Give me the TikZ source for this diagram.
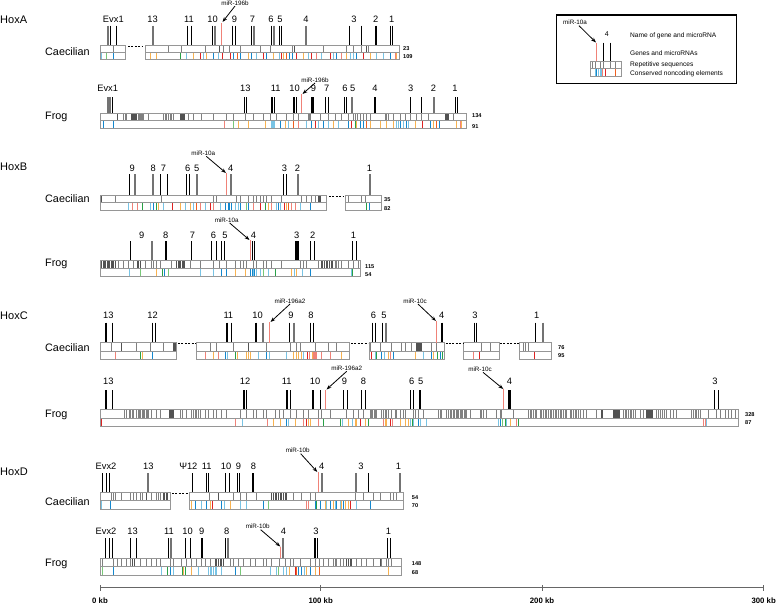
\documentclass[tikz,border=0pt]{standalone}
\usepackage{fontspec}
\setmainfont{Liberation Sans}
\usetikzlibrary{arrows.meta}
\newcounter{nn}
\definecolor{lb}{RGB}{120,195,228}
\definecolor{bl}{RGB}{20,135,205}
\definecolor{or}{RGB}{248,178,80}
\definecolor{ro}{RGB}{240,95,30}
\definecolor{rd}{RGB}{222,35,35}
\definecolor{sa}{RGB}{240,130,120}
\definecolor{gr}{RGB}{40,160,70}
\definecolor{gl}{RGB}{120,200,120}
\definecolor{trk}{RGB}{150,150,150}
\tikzset{
 trackbox/.style={draw=trk, line width=0.8pt},
 rep/.style={draw=black!50, line width=0.55pt},
 repd/.style={draw=black!68, line width=0.9pt},
 cne/.style={line width=0.9pt},
 gbk/.style={draw=black, line width=0.9pt},
 ggr/.style={draw=black!55, line width=1.9pt},
 gbt/.style={draw=black, line width=1.9pt},
 mir/.style={draw=sa, line width=0.7pt},
 genelab/.style={font=\fontsize{9.3}{10}\selectfont, inner sep=0pt},
 hoxlab/.style={font=\fontsize{11}{12}\selectfont, anchor=west, inner sep=0pt},
 splab/.style={font=\fontsize{10.8}{12}\selectfont, anchor=west, inner sep=0pt},
 numlab/.style={font=\fontsize{5.6}{6}\selectfont\bfseries, anchor=west, inner sep=0pt},
 mirlab/.style={font=\fontsize{6.3}{7}\selectfont, inner sep=0.5pt},
 leglab/.style={font=\fontsize{6.6}{7}\selectfont, anchor=west, inner sep=0pt},
 axlab/.style={font=\fontsize{7.8}{9}\selectfont\bfseries, inner sep=0pt},
 arr/.style={-{Stealth[length=5pt,width=3.6pt]}, line width=0.8pt},
 gapline/.style={dash pattern=on 2pt off 1.4pt, line width=1pt},
 axisline/.style={draw=black!60, line width=0.7pt},
 legbox/.style={draw=black, line width=1.2pt}
}
% ticks/bars at 3x-coordinates
\newcommand\gns[4]{\foreach \u in {#4}{\draw[#3] (\u/3,#1) -- (\u/3,#2);}}
\newcommand\cnes[3]{\foreach \c/\u in {#3}{\draw[cne,draw=\c] (\u/3,#1) -- (\u/3,#2);}}
\newcommand\gls[2]{\foreach \u/\t in {#2}{\stepcounter{nn}\node[genelab] (g\thenn) at (\u/3,#1) {\t};}}
\newcommand\trkbox[5]{\draw[trackbox] (#1,#3) rectangle (#2,#5); \draw[trackbox] (#1,#4) -- (#2,#4);}
\begin{document}
\begin{tikzpicture}[x=1pt,y=-1pt]
\useasboundingbox (0,0) rectangle (778,606);

% ================= HoxA =================
\node[hoxlab] (hoxA) at (0,20) {HoxA};
\node[splab] (spA1) at (45,52) {Caecilian};
\node[splab] (spA2) at (45,117) {Frog};
% Caecilian
\gls{19}{340/Evx1,458/13,567/11,638/10,703/9,757/7,813/6,840/5,918/4,1062/3,1127/2,1175/1}
\gns{25.7}{45.3}{gbk}{331,348,563,573,636,697,705,755,813,838,845,1048,1083,1171,1178}
\gns{25.7}{45.3}{ggr}{325,460,645,763,822,918}
\gns{25.7}{45.3}{gbt}{1127}
\gns{45.3}{52}{rep}{340,505,545,615,670,688,720,780,810,876,970,1040,1060,1085,1105}
\gns{45.3}{52}{repd}{657,882,1100}
\cnes{52}{59.3}{lb/305,gl/318,bl/340,or/450,or/470,gr/540,lb/560,or/580,rd/600,lb/610,or/620,bl/640,lb/655,rd/668,rd/690,bl/700,ro/712,bl/722,or/745,bl/755,lb/770,rd/790,bl/800,or/820,lb/838,rd/845,or/850,ro/860,bl/868,bl/878,rd/890,or/910,lb/925,rd/935,sa/950,lb/965,rd/990,lb/1000,bl/1010,sa/1025,or/1040,lb/1050,lb/1060,bl/1070,rd/1090,or/1110,lb/1130,lb/1150,bl/1170,sa/1185,or/1190}
\trkbox{100}{125.7}{45.3}{52}{59.3}
\trkbox{145.7}{399}{45.3}{52}{59.3}
\draw[gapline] (128,46) -- (143,46);
\draw[mir] (664/3,23) -- (664/3,45.3);
\node[mirlab] (mA1) at (235,3) {miR-196b};
\coordinate (tA1) at (222.5,22);
\draw[arr] (mA1.south) -- (tA1);
\node[numlab] (nA1) at (403,48.3) {23};
\node[numlab] (nA2) at (403,56.5) {109};
% Frog
\gls{88}{323/Evx1,736/13,827/11,884/10,940/9,980/7,1035/6,1058/5,1125/4,1232/3,1300/2,1365/1}
\gns{97}{113.3}{gbk}{337,733,740,824,890,935,977,985,1033,1038,1230,1263,1365,1371}
\gns{97}{113.3}{ggr}{325,331,1055,1303}
\gns{97}{113.3}{gbt}{817,881,940,1125}
\gns{113.3}{120.7}{repd}{352,395,398,...,410,540,543,...,552,1335,1338,1341,1344}
\gns{113.3}{120.7}{rep}{370,375,380,415,418,...,430,445,490,495,...,520,565,580,605,640,680,700,735,760,790,810,830,858,880,895,925,928,932,960,985,1005,1025,1045,1060,1065,1072,1080,1090,1100,1110,1155,1160,1165,1180,1200,1215,1230,1250,1265,1285,1360}
\cnes{120.7}{128.3}{bl/310,bl/340,sa/672,gl/700,or/715,or/745,or/795,lb/815,lb/818,lb/821,lb/824,bl/840,or/855,lb/865,ro/880,sa/895,lb/920,bl/935,rd/945,lb/955,bl/970,lb/985,or/1000,lb/1015,bl/1045,rd/1055,gr/1065,or/1068,bl/1080,bl/1090,ro/1100,or/1110,or/1140,or/1160,or/1180,lb/1190,lb/1195,bl/1200,lb/1210,bl/1220,lb/1225,or/1245,rd/1268,bl/1290,or/1300,ro/1310,bl/1318,or/1370,sa/1380,or/1385}
\trkbox{100}{466}{113.3}{120.7}{128.3}
\draw[mir] (905/3,94) -- (905/3,113.3);
\node[mirlab] (mA2) at (315,80) {miR-196b};
\coordinate (tA2) at (302.5,94);
\draw[arr] (mA2.south) -- (tA2);
\node[numlab] (nA3) at (472,115.5) {134};
\node[numlab] (nA4) at (472,126.5) {91};

% ================= HoxB =================
\node[hoxlab] (hoxB) at (0,166.7) {HoxB};
\node[splab] (spB1) at (45,198.3) {Caecilian};
\node[splab] (spB2) at (45,264) {Frog};
% Caecilian
\gls{168.3}{397/9,460/8,490/7,563/6,590/5,692/4,853/3,892/2,1108/1}
\gns{174.3}{195}{gbk}{387,482,503,560,567,850,858}
\gns{174.3}{195}{ggr}{405,460,590,692,895,1110}
\gns{195}{202.3}{repd}{305,955,958,961}
\gns{195}{202.3}{rep}{345,485,640,650,710,720,745,760,770,780,790,800,815,845,905,920,935,945,1045,1085,1095}
\cnes{202.3}{210}{lb/385,sa/398,sa/412,gr/428,lb/452,bl/460,gr/470,or/474,lb/490,rd/518,or/540,lb/555,or/572,lb/580,ro/590,sa/600,lb/615,rd/630,sa/640,lb/660,bl/675,bl/685,bl/689,bl/693,lb/705,lb/715,bl/722,gl/738,bl/745,sa/760,rd/780,gr/795,or/805,sa/815,lb/828,bl/835,lb/840,rd/852,or/860,ro/866,sa/875,sa/885,lb/900,bl/930,gr/1100,bl/1108}
\trkbox{100}{326.7}{195}{202.3}{210}
\trkbox{345.7}{381.7}{195}{202.3}{210}
\draw[gapline] (329,196) -- (344,196);
\draw[mir] (680/3,173) -- (680/3,195);
\node[mirlab] (mB1) at (203.3,153.3) {miR-10a};
\coordinate (tB1) at (226,173);
\draw[arr] (mB1.south) ++(3,0) -- (tB1);
\node[numlab] (nB1) at (384,199.5) {35};
\node[numlab] (nB2) at (384,208.3) {82};
% Frog
\gls{235}{425/9,497/8,577/7,640/6,675/5,760/4,890/3,938/2,1060/1}
\gns{241}{260.7}{gbk}{392,575,635,650,665,672,758,763,930,943,1058,1068}
\gns{241}{260.7}{ggr}{455}
\gns{241}{260.7}{gbt}{497,888,895}
\gns{260.7}{268.3}{repd}{305,309,...,345,412,416,420,530,534,...,555,963,968,...,1000}
\gns{260.7}{268.3}{rep}{355,370,385,400,435,455,460,470,480,515,570,600,640,658,680,705,722,730,740,760,770,790,800,815,845,900,910,920,955,1005,1010,1015,1025,1045,1060,1075}
\cnes{268.3}{276.7}{lb/388,gl/420,or/468,gr/487,bl/492,gl/505,lb/600,lb/640,bl/665,bl/678,or/705,or/735,bl/752,bl/756,lb/760,bl/764,lb/768,lb/780,gl/790,lb/805,gr/825,or/875,lb/882,or/890,lb/908,bl/930,lb/1055,gr/1058}
\trkbox{100}{360}{260.7}{268.3}{276.7}
\draw[mir] (750/3,240) -- (750/3,260.7);
\node[mirlab] (mB2) at (226.7,220) {miR-10a};
\coordinate (tB2) at (249.5,240);
\draw[arr] (mB2.south) ++(3,0) -- (tB2);
\node[numlab] (nB3) at (365,266.5) {115};
\node[numlab] (nB4) at (365,275) {54};

% ================= HoxC =================
\node[hoxlab] (hoxC) at (0,315.7) {HoxC};
\node[splab] (spC1) at (45,347.7) {Caecilian};
\node[splab] (spC2) at (45,415) {Frog};
% Caecilian
\gls{315}{325/13,458/12,685/11,773/10,873/9,933/8,1120/6,1152/5,1325/4,1425/3,1610/1}
\gns{322.7}{342.7}{gbk}{337,457,465,693,867,930,940,1117,1125,1148,1423,1430,1605}
\gns{322.7}{342.7}{ggr}{790,882,1157,1628}
\gns{322.7}{342.7}{gbt}{318,680,768,1327}
\gns{342.7}{351}{repd}{365,520,523,526,745,1250,1253,...,1265}
\gns{342.7}{351}{rep}{335,410,450,490,630,650,700,800,870,890,900,945,985,1010,1110,1140,1175,1205,1215,1235,1295,1310,1445,1470,1570,1577,1585}
\cnes{351}{359.3}{sa/345,gr/420,or/427,bl/458,sa/617,or/640,sa/655,bl/675,lb/683,gr/705,or/713,or/740,or/745,or/750,lb/775,bl/800,lb/808,lb/860,or/880,or/888,or/895,or/905,lb/910,rd/922,sa/928,or/938,sa/940,sa/943,sa/946,sa/949,sa/965,sa/990,or/1025,rd/1115,lb/1125,gr/1130,bl/1145,lb/1152,or/1165,sa/1170,bl/1180,or/1245,lb/1270,bl/1295,or/1300,gr/1312,bl/1320,gr/1328,sa/1420,rd/1438,rd/1603}
\trkbox{100}{176.7}{342.7}{351}{359.3}
\trkbox{196.7}{349.3}{342.7}{351}{359.3}
\trkbox{369.3}{444.3}{342.7}{351}{359.3}
\trkbox{463.3}{499}{342.7}{351}{359.3}
\trkbox{519.3}{551}{342.7}{351}{359.3}
\draw[gapline] (178,343.5) -- (196,343.5);
\draw[gapline] (351,343.5) -- (368,343.5);
\draw[gapline] (445.5,343.5) -- (463,343.5);
\draw[gapline] (500,343.5) -- (519,343.5);
\draw[mir] (808/3,322) -- (808/3,342.7);
\node[mirlab] (mC1) at (290,301) {miR-196a2};
\coordinate (tC1) at (270.5,322);
\draw[arr] (mC1.south) -- (tC1);
\draw[mir] (1310/3,321) -- (1310/3,342.7);
\node[mirlab] (mC2) at (415,301) {miR-10c};
\coordinate (tC2) at (436,321);
\draw[arr] (mC2.south) ++(3,0) -- (tC2);
\node[numlab] (nC1) at (558,347.7) {76};
\node[numlab] (nC2) at (558,356) {95};
% Frog
\gls{381.7}{325/13,735/12,860/11,945/10,1033/9,1090/8,1235/6,1262/5,1528/4,2145/3}
\gns{390}{409.3}{gbk}{337,738,870,962,1030,1042,1085,1095,1232,1240,1257,1262,1532,2143,2155}
\gns{390}{409.3}{gbt}{318,733,860,940,1528}
\gns{409.3}{418.3}{repd}{508,511,...,520,1805,1808,1840,1843,...,1860,1940,1943,...,1960,1665,1668}
\gns{409.3}{418.3}{rep}{372,380,388,392,396,400,410,414,...,446,455,470,480,540,548,560,575,580,...,600,615,625,640,650,665,680,720,740,760,770,790,800,825,838,850,870,890,910,925,955,965,990,1040,1060,1075,1090,1110,1114,...,1130,1150,1165,1185,1200,1215,1240,1255,1145,1155,1160,1175,1190,1210,1245,1270,1315,1320,1325,1340,1345,...,1355,1360,1364,...,1400,1410,1440,1445,1450,1460,1490,1500,1505,1540,1585,1590,...,1610,1620,1625,...,1640,1645,1650,...,1700,1710,1715,...,1740,1750,1760,1790,1870,1875,...,1900,1905,1920,1930,1970,1976,...,2000,2010,2020,2030,2075,2080,...,2100,2125,2150,2160,2175,2185,2195,2205}
\cnes{418.3}{426}{rd/305,sa/705,lb/728,sa/803,or/820,or/840,bl/858,lb/865,or/885,sa/910,rd/920,or/925,or/930,sa/955,gr/970,gr/1020,lb/1027,or/1045,lb/1058,or/1065,or/1070,rd/1082,or/1095,gr/1105,sa/1150,or/1155,or/1160,rd/1172,sa/1178,or/1200,or/1215,or/1225,lb/1232,gr/1236,lb/1240,bl/1255,lb/1260,lb/1280,lb/1495,bl/1502,gl/1508,gr/1515,lb/1520,or/1530,sa/1548,gr/1555,sa/2110,sa/2115,lb/2120}
\trkbox{100}{738.3}{409.3}{418.3}{426}
\draw[mir] (977/3,390) -- (977/3,409.3);
\node[mirlab] (mC3) at (346.7,368.3) {miR-196a2};
\coordinate (tC3) at (326.5,389.5);
\draw[arr] (mC3.south) -- (tC3);
\draw[mir] (1511/3,389) -- (1511/3,409.3);
\node[mirlab] (mC4) at (480,369.3) {miR-10c};
\coordinate (tC4) at (503.3,389);
\draw[arr] (mC4.south) ++(3,0) -- (tC4);
\node[numlab] (nC3) at (745,414.3) {328};
\node[numlab] (nC4) at (745,422.7) {87};

% ================= HoxD =================
\node[hoxlab] (hoxD) at (0,471.7) {HoxD};
\node[splab] (spD1) at (45,501.7) {Caecilian};
\node[splab] (spD2) at (45,564) {Frog};
% Caecilian
\gls{466.7}{318/Evx2,445/13,565/Ψ12,620/11,678/10,715/9,760/8,965/4,1083/3,1195/1}
\gns{473.3}{492.3}{gbk}{307,318,327,578,618,625,677,688,712,717,1105}
\gns{473.3}{492.3}{ggr}{445,967,1068,1200}
\gns{473.3}{492.3}{gbt}{760}
\gns{492.3}{500}{repd}{440,490,494,498,502,655,815,820,...,860}
\gns{492.3}{500}{rep}{335,340,345,365,390,400,410,420,428,455,470,475,480,628,700,720,740,770,880,905,930,945,1065,1090,1120,1140,1170,1180,1190}
\cnes{500}{509}{lb/305,bl/330,or/575,bl/585,lb/605,bl/620,or/630,rd/638,bl/665,lb/672,or/690,lb/720,lb/740,bl/790,gl/805,sa/920,sa/925,bl/945,gr/950,bl/960,or/975,lb/980,bl/990,or/1000,lb/1005,bl/1010,lb/1020,or/1025,bl/1030,or/1037,or/1045,rd/1050,lb/1070,bl/1110}
\trkbox{100}{170.7}{492.3}{500}{509}
\trkbox{189.3}{403.3}{492.3}{500}{509}
\draw[gapline] (172,493) -- (188.5,493);
\draw[mir] (955/3,472) -- (955/3,492.3);
\node[mirlab] (mD1) at (297.7,450.7) {miR-10b};
\coordinate (tD1) at (317.3,472);
\draw[arr] (mD1.south) ++(3,0) -- (tD1);
\node[numlab] (nD1) at (411.7,497.3) {54};
\node[numlab] (nD2) at (411.7,506) {70};
% Frog
\gls{531.7}{318/Evx2,398/13,507/11,563/10,605/9,680/8,850/4,948/3,1165/1}
\gns{538.3}{558.3}{gbk}{315,328,338,392,410,505,557,572,677,952,1163,1170}
\gns{538.3}{558.3}{ggr}{512,685,850}
\gns{538.3}{558.3}{gbt}{605,945}
\gns{558.3}{566.7}{repd}{398,402,645,650,...,670,1040,1045,1050,1055,1140,1144}
\gns{558.3}{566.7}{rep}{308,340,352,365,380,390,420,440,455,470,482,510,520,545,560,575,590,605,615,630,690,700,715,730,750,765,790,800,815,838,855,870,880,900,930,945,958,970,985,1000,1005,1010,1020,1030,1070,1085,1100,1120,1145,1160,1175,1165,1175}
\cnes{566.7}{575}{gl/308,bl/340,lb/485,gr/503,bl/510,lb/520,gr/547,or/550,gr/555,or/575,lb/595,lb/625,lb/630,lb/635,lb/640,lb/645,lb/650,lb/665,bl/705,gl/720,lb/810,lb/830,gl/835,lb/850,lb/860,or/868,rd/885,ro/890,bl/895,bl/905,lb/912,or/920,bl/930,or/945,ro/957,or/1165}
\trkbox{100}{401}{558.3}{566.7}{575}
\draw[mir] (842/3,546.5) -- (842/3,558.3);
\node[mirlab] (mD2) at (257.7,526.7) {miR-10b};
\coordinate (tD2) at (280.3,546.5);
\draw[arr] (mD2.south) ++(3,0) -- (tD2);
\node[numlab] (nD3) at (411.7,563.3) {148};
\node[numlab] (nD4) at (411.7,572.7) {68};

% ================= axis =================
\coordinate (ax0) at (100,587.3);
\coordinate (ax3) at (763.7,587.3);
\draw[axisline] (ax0) -- (ax3);
\foreach \k/\xx in {0/100,1/320.7,2/542,3/763.7}{\draw[axisline] (\xx,585) -- (\xx,591);}
\node[axlab] (k0) at (100,600.5) {0 kb};
\node[axlab] (k1) at (320.7,600.5) {100 kb};
\node[axlab] (k2) at (542,600.5) {200 kb};
\node[axlab] (k3) at (763.7,600.5) {300 kb};

% ================= legend =================
\draw[legbox] (556.7,15) rectangle (736.7,83.3);
\node[mirlab] (mL) at (575,22.7) {miR-10a};
\coordinate (tL) at (596,42.5);
\draw[arr] (mL.south) ++(4,0) -- (tL);
\draw[mir] (596.7,42.5) -- (596.7,61.7);
\node[genelab, font=\fontsize{7}{8}\selectfont] (gL) at (606.7,34.3) {4};
\draw[gbk] (603.3,42.7) -- (603.3,61.7);
\draw[gbk] (610,42.7) -- (610,61.7);
\gns{61.7}{68.3}{rep}{1776,1785,1800,1809,1830,1845}
\cnes{68.3}{76.7}{lb/1785,bl/1790,lb/1795,lb/1800,lb/1805,sa/1808,rd/1815,ro/1845}
\trkbox{590.7}{621.7}{61.7}{68.3}{76.7}
\node[leglab] (L1) at (630,36) {Name of gene and microRNA};
\node[leglab] (L2) at (630,53.3) {Genes and microRNAs};
\node[leglab] (L3) at (630,65) {Repetitive sequences};
\node[leglab] (L4) at (630,74) {Conserved noncoding elements};
\end{tikzpicture}
\end{document}
